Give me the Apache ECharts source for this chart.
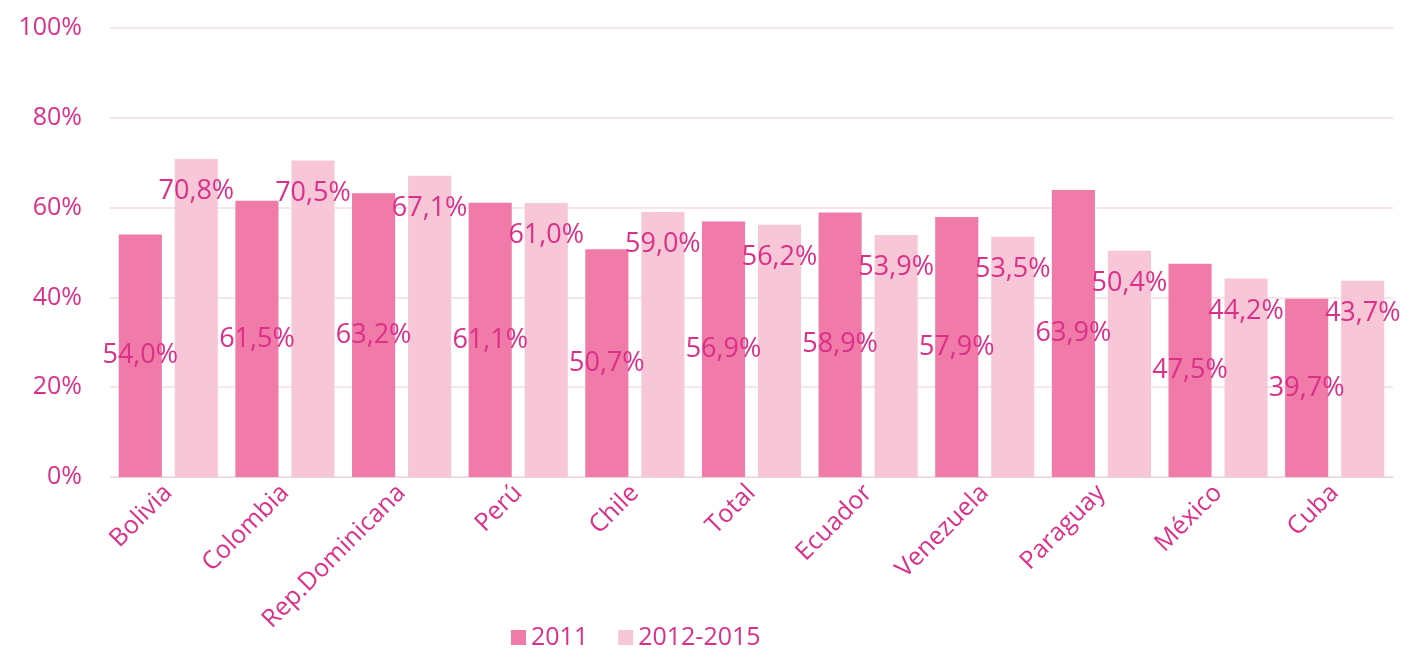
<!DOCTYPE html>
<html><head><meta charset="utf-8">
<script src="https://cdn.jsdelivr.net/npm/echarts@6/dist/echarts.min.js"></script>
<style>html,body{margin:0;padding:0;background:#fff}#c{width:1405px;height:659px}</style>
</head><body><div id="c"></div>
<script>
const categories = ["Bolivia","Colombia","Rep.Dominicana","Perú","Chile","Total","Ecuador","Venezuela","Paraguay","México","Cuba"];
const seriesNames = ["2011","2012-2015"];
const values2011 = [54.0,61.5,63.2,61.1,50.7,56.9,58.9,57.9,63.9,47.5,39.7];
const values2012 = [70.8,70.5,67.1,61.0,59.0,56.2,53.9,53.5,50.4,44.2,43.7];
const yTicks = [0,20,40,60,80,100];

const pink = '#dc2f8a';
const font = 'Open Sans';
const fmt = v => v.toFixed(1).replace('.', ',') + '%';
const chart = echarts.init(document.getElementById('c'));
chart.setOption({
  animation:false,
  textStyle:{fontFamily:font},
  grid:{left:110,right:12,top:28,bottom:182},
  legend:{bottom:4,left:506,itemWidth:15,itemHeight:15,itemGap:30,icon:'rect',
    textStyle:{color:pink,fontSize:25,fontFamily:font}},
  xAxis:{type:'category',data:categories,
    axisLine:{show:true,lineStyle:{color:'#ead3dc'}},axisTick:{show:false},
    axisLabel:{rotate:45,color:pink,fontSize:25,fontFamily:font,margin:12}},
  yAxis:{type:'value',min:yTicks[0],max:yTicks[yTicks.length-1],interval:20,
    axisLine:{show:false},axisTick:{show:false},
    splitLine:{lineStyle:{color:'#f6e6ec',width:2}},
    axisLabel:{color:pink,fontSize:25,fontFamily:font,margin:28,formatter:v=>v+'%'}},
  series:[
    {name:seriesNames[0],type:'bar',data:values2011,barGap:'30%',barCategoryGap:'15%',
     itemStyle:{color:'#f07aa8'},
     label:{show:true,position:'inside',formatter:p=>fmt(p.value),color:pink,fontSize:27,fontFamily:font}},
    {name:seriesNames[1],type:'bar',data:values2012,
     itemStyle:{color:'#f8c7d7'},
     label:{show:true,position:'insideTop',distance:19,formatter:p=>fmt(p.value),color:pink,fontSize:27,fontFamily:font}}
  ]
});
</script></body></html>
